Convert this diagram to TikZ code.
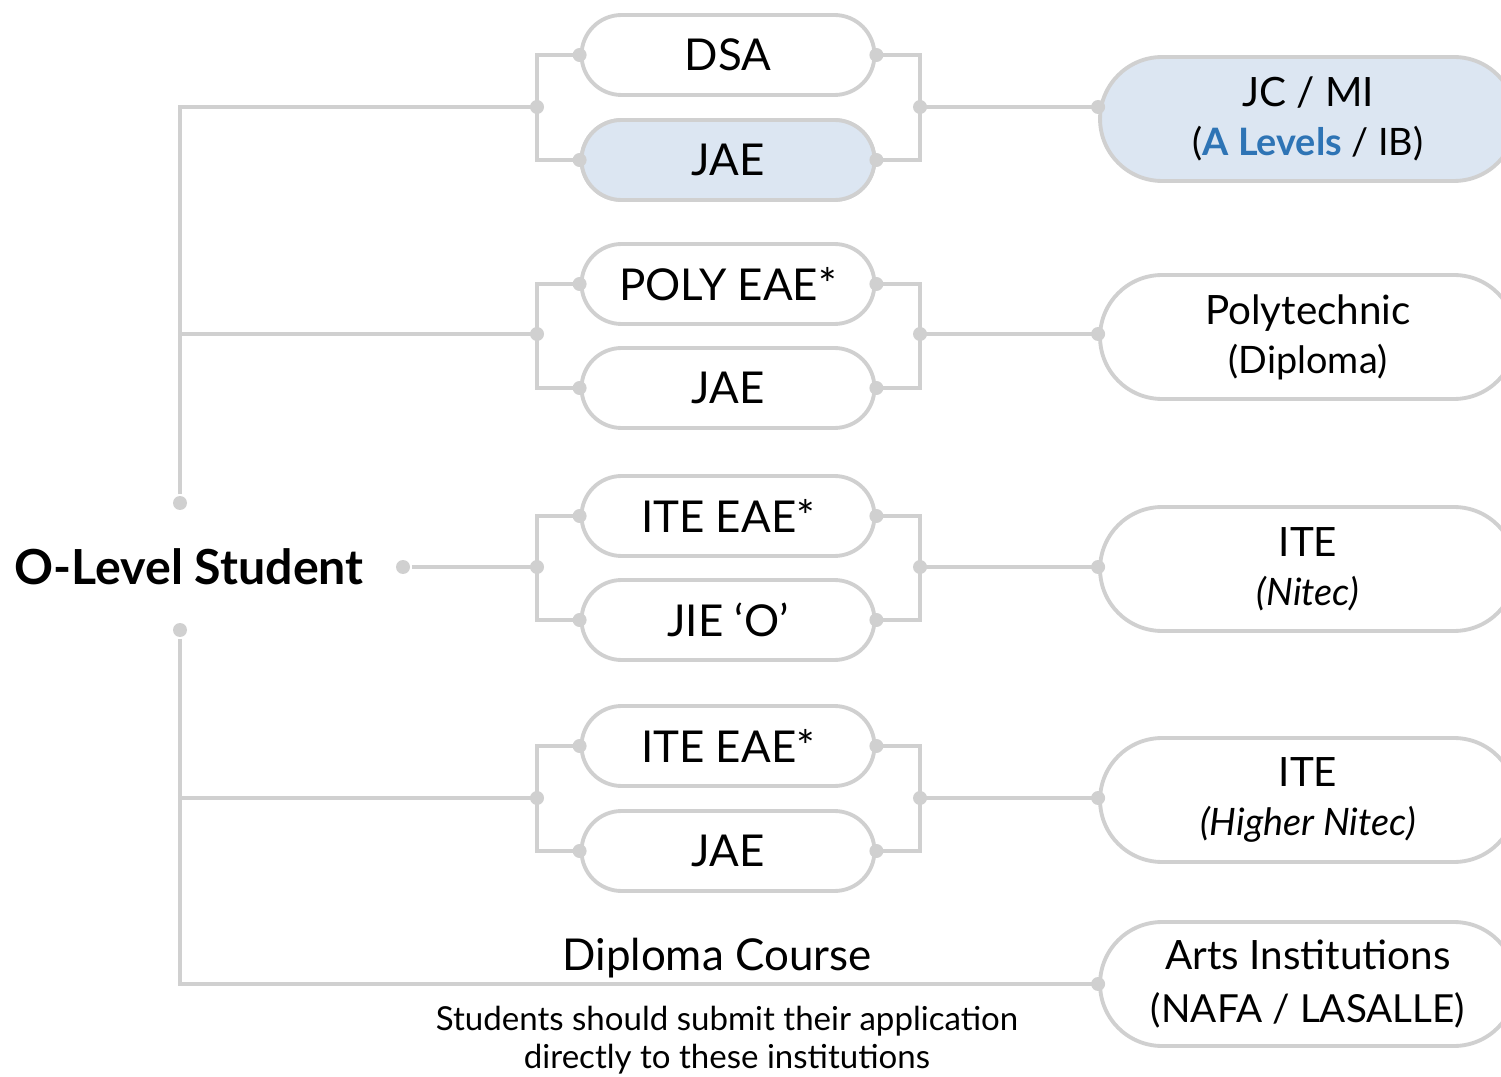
\documentclass[tikz,border=0pt]{standalone}
\usepackage{fontspec}
\setmainfont{Lato}
\usetikzlibrary{positioning}
\definecolor{linegray}{RGB}{208,208,208}
\definecolor{paleblue}{RGB}{220,230,242}
\definecolor{levelblue}{RGB}{46,116,181}

\begin{document}
\begin{tikzpicture}[x=0.02cm,y=-0.02cm,line width=2.2pt,draw=linegray]
        \tikzstyle{route}=[rectangle,rounded corners=0.8cm,draw=linegray,line width=2.2pt,fill=white,minimum width=5.86cm,minimum height=1.6cm,inner sep=0pt,font=\fontsize{25}{28}\selectfont]
        \tikzstyle{school}=[rectangle,rounded corners=1.24cm,draw=linegray,line width=2.2pt,fill=white,minimum width=8.32cm,minimum height=2.48cm,inner sep=0pt,align=center,font=\fontsize{23}{30}\selectfont]
        \tikzstyle{dot}=[circle,fill=linegray,inner sep=0pt,minimum size=0.28cm]
        \useasboundingbox (0,0) rectangle (1501,1077);

        % middle column
        \foreach \name/\y/\txt in {dsa/55/DSA, jaeA/160/JAE, poly/284/POLY EAE*, jaeB/388/JAE, iteA/516/ITE EAE*, jie/620/JIE ‘O’, iteB/746/ITE EAE*, jaeC/851/JAE}
                \node[route] (R-\name) at (728,\y) {\txt};
        \node[route,fill=paleblue] at (R-jaeA) {JAE};

        % right column
        \node[school,fill=paleblue] (S-jc) at (1308,119) {JC / MI\\[-2pt]{\fontsize{21.5}{26}\selectfont(\textcolor{levelblue}{\bfseries A Levels} / IB)}};
        \node[school] (S-poly) at (1308,337) {Polytechnic\\[-2pt]{\fontsize{21.5}{26}\selectfont(Diploma)}};
        \node[school] (S-nitec) at (1308,569) {ITE\\[-2pt]{\fontsize{21.5}{26}\selectfont\itshape(Nitec)}};
        \node[school] (S-hnitec) at (1308,800) {ITE\\[-2pt]{\fontsize{21.5}{26}\selectfont\itshape(Higher Nitec)}};
        \node[school] (S-arts) at (1308,984) {Arts Institutions\\[0pt]{\fontsize{22}{26}\selectfont(NAFA / LASALLE)}};

        % brackets round each pair
        \foreach \g/\a/\b/\y/\s in {1/dsa/jaeA/107/jc, 2/poly/jaeB/334/poly, 3/iteA/jie/567/nitec, 4/iteB/jaeC/798/hnitec} {
                \coordinate (L-\g) at (537,\y);
                \coordinate (M-\g) at (920,\y);
                \draw (R-\a.west) -| (L-\g) |- (R-\b.west);
                \draw (R-\a.east) -| (M-\g) |- (R-\b.east);
                \draw (M-\g) -- (M-\g -| S-\s.west);
                \node[dot] at (L-\g) {};
                \node[dot] at (M-\g) {};
                \node[dot] at (M-\g -| S-\s.west) {};
                \node[dot] at (R-\a.west) {};
                \node[dot] at (R-\b.west) {};
                \node[dot] at (R-\a.east) {};
                \node[dot] at (R-\b.east) {};
        }

        % student and trunk
        \node[font=\fontsize{27.5}{30}\selectfont\bfseries] (student) at (189,567) {O-Level Student};
        \node[dot] (D-student) at (403,567) {};
        \node[dot] (T-up) at (180,503) {};
        \node[dot] (T-down) at (180,630) {};
        \draw (D-student) -- (L-3);
        \draw (T-up) |- (L-1);
        \draw (T-up |- L-2) -- (L-2);
        \draw (T-up |- L-4) -- (L-4);
        \draw (T-down) |- (S-arts.west);
        \node[dot] at (S-arts.west) {};

        \node[font=\fontsize{25}{28}\selectfont] (diploma) at (717,958) {Diploma Course};
        \node[font=\fontsize{18.8}{22}\selectfont,align=center] (note) at (727,1040) {Students should submit their application\\directly to these institutions};
\end{tikzpicture}
\end{document}
